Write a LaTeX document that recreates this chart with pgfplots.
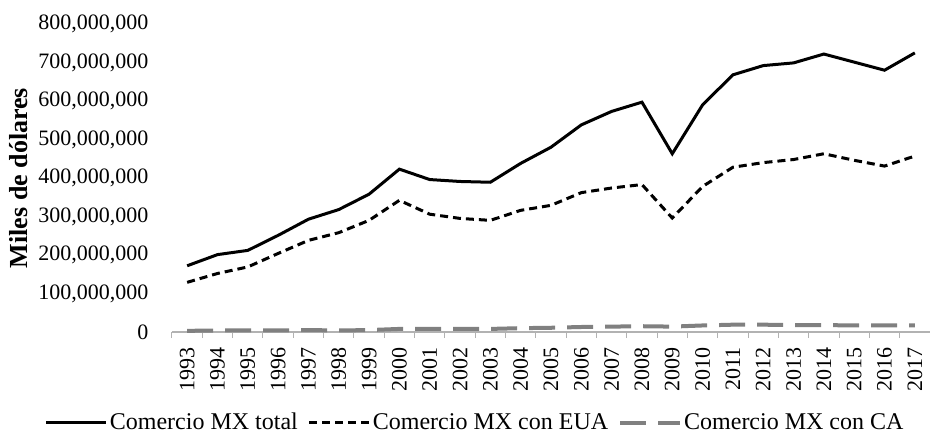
\documentclass[border=0pt]{standalone}
\usepackage{fontspec}
\setmainfont{Liberation Serif}
\usepackage{pgfplots}
\pgfplotsset{compat=1.18}
\definecolor{cagray}{RGB}{128,128,128}
\begin{document}
\begin{tikzpicture}
\useasboundingbox (-86pt,-51pt) rectangle (379pt,166pt);
\begin{axis}[
  at={(0,0)}, anchor=south west,
  scale only axis, width=379pt, height=154pt,
  xmin=-0.5, xmax=24.5, ymin=0, ymax=800000000,
  scaled y ticks=false,
  clip=false,
  axis lines*=left,
  y axis line style={draw=none},
  x axis line style={draw=black!30, line width=0.6pt},
  ytick={0,100000000,200000000,300000000,400000000,500000000,600000000,700000000,800000000},
  yticklabels={0,{100,000,000},{200,000,000},{300,000,000},{400,000,000},{500,000,000},{600,000,000},{700,000,000},{800,000,000}},
  ytick style={draw=none},
  xtick={0,...,24},
  xticklabels={1993,1994,1995,1996,1997,1998,1999,2000,2001,2002,2003,2004,2005,2006,2007,2008,2009,2010,2011,2012,2013,2014,2015,2016,2017},
  major x tick style={draw=none},
  minor xtick={-0.5,0.5,1.5,2.5,3.5,4.5,5.5,6.5,7.5,8.5,9.5,10.5,11.5,12.5,13.5,14.5,15.5,16.5,17.5,18.5,19.5,20.5,21.5,22.5,23.5,24.5},
  minor x tick style={draw=black!30, line width=0.5pt},
  minor tick length=3pt,
  tick align=outside,
  tick label style={font=\fontsize{11}{13}\selectfont},
  xticklabel style={rotate=90, anchor=east},
  yticklabel style={xshift=-4pt},
  ylabel={\textbf{Miles de dólares}},
  ylabel style={at={(axis description cs:-0.203,0.5)}, anchor=center, font=\fontsize{13}{15}\selectfont},
  legend columns=3,
  legend cell align=left,
  legend style={at={(axis description cs:0.40,-0.295)}, anchor=center, draw=none, fill=none,
    font=\fontsize{12}{14}\selectfont, inner sep=0pt, nodes={inner xsep=1pt},
    /tikz/every even column/.append style={column sep=4pt}},
  legend image code/.code={\draw[#1] (0pt,0pt) -- (30pt,0pt);},
]
\addplot[black, line width=1.5pt] coordinates {
(0,172000000) (1,201000000) (2,212000000) (3,251000000) (4,293000000) (5,318000000) (6,358000000) (7,423000000) (8,396000000) (9,391000000) (10,389000000) (11,438000000) (12,480000000) (13,538000000) (14,573000000) (15,597000000) (16,463000000) (17,590000000) (18,668000000) (19,692000000) (20,699000000) (21,722000000) (22,701000000) (23,680000000) (24,725000000)};
\addlegendentry{Comercio MX total}
\addplot[black, line width=1.5pt, dash pattern=on 4pt off 2.5pt] coordinates {
(0,129000000) (1,152000000) (2,169000000) (3,204000000) (4,238000000) (5,258000000) (6,290000000) (7,342000000) (8,306000000) (9,295000000) (10,290000000) (11,316000000) (12,329000000) (13,362000000) (14,374000000) (15,383000000) (16,296000000) (17,378000000) (18,428000000) (19,440000000) (20,448000000) (21,463000000) (22,446000000) (23,431000000) (24,457000000)};
\addlegendentry{Comercio MX con EUA}
\addplot[cagray, line width=2pt, dash pattern=on 13pt off 6pt] coordinates {
(0,3000000) (1,4000000) (2,4000000) (3,4000000) (4,5000000) (5,4000000) (6,5000000) (7,8000000) (8,8000000) (9,8000000) (10,8000000) (11,10000000) (12,11000000) (13,13000000) (14,14000000) (15,15000000) (16,14000000) (17,17000000) (18,19000000) (19,19000000) (20,18000000) (21,18000000) (22,17000000) (23,17000000) (24,17000000)};
\addlegendentry{Comercio MX con CA}
\end{axis}
\end{tikzpicture}
\end{document}
